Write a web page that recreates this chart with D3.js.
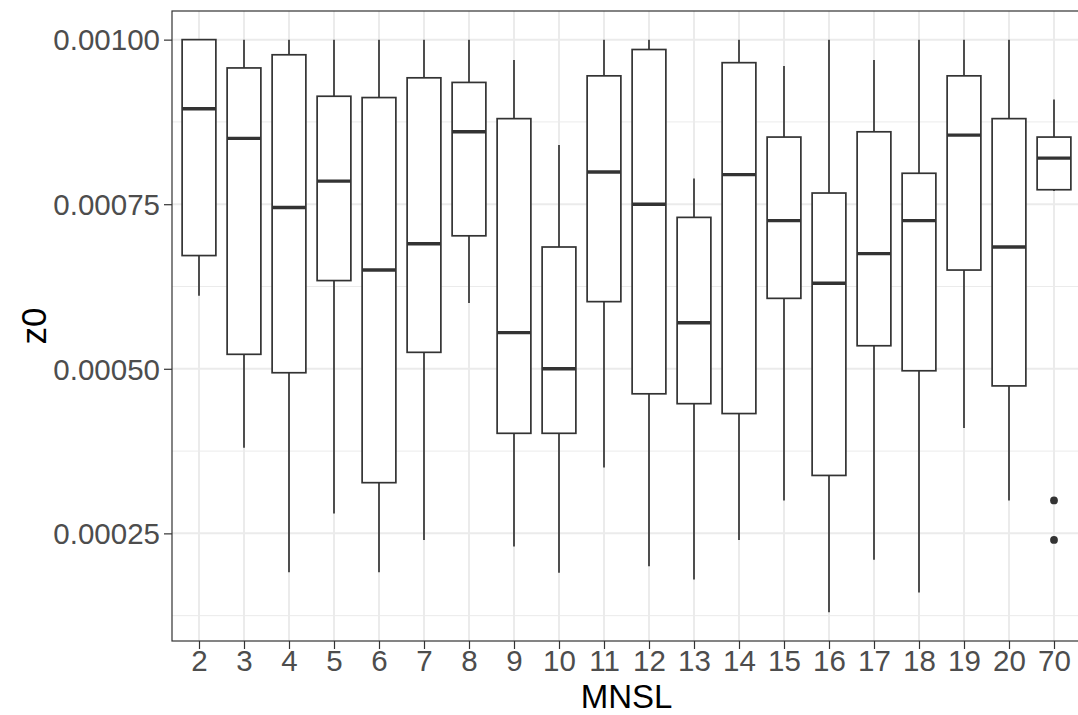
<!DOCTYPE html>
<html>
<head>
<meta charset="utf-8">
<script src="https://cdn.jsdelivr.net/npm/d3@7"></script>
<style>
  html, body { margin: 0; padding: 0; background: #ffffff; }
  svg { display: block; font-family: "Liberation Sans", Arial, Helvetica, sans-serif; }
</style>
</head>
<body>
<svg id="chart" width="1078" height="715"></svg>
<script>
// ---- data ----
const categories = ["2","3","4","5","6","7","8","9","10","11","12","13","14","15","16","17","18","19","20","70"];
const whiskerLow = [0.000611,0.00038,0.000191,0.00028,0.000191,0.00024,0.0006,0.00023,0.00019,0.00035,0.0002,0.00018,0.00024,0.0003,0.00013,0.00021,0.00016,0.00041,0.0003,0.00077];
const q1         = [0.000672,0.000522,0.000494,0.000634,0.000327,0.000525,0.000702,0.000402,0.000402,0.000602,0.000462,0.000447,0.000432,0.000607,0.000338,0.000535,0.000497,0.00065,0.000474,0.000772];
const medians    = [0.000895,0.00085,0.000745,0.000785,0.00065,0.00069,0.00086,0.000555,0.0005,0.000799,0.00075,0.00057,0.000795,0.000725,0.00063,0.000675,0.000725,0.000855,0.000685,0.00082];
const q3         = [0.001,0.000957,0.000977,0.000914,0.000912,0.000942,0.000935,0.00088,0.000685,0.000945,0.000985,0.00073,0.000965,0.000852,0.000767,0.00086,0.000797,0.000945,0.00088,0.000852];
const whiskerHigh= [0.001,0.001,0.001,0.001,0.001,0.001,0.001,0.000969,0.00084,0.001,0.001,0.000789,0.001,0.00096,0.001,0.000969,0.001,0.001,0.001,0.000909];
const outlierCats = ["70","70"];
const outlierVals = [0.0003,0.00024];
const yTicks = [0.00025,0.0005,0.00075,0.001];
const yMinorTicks = [0.000125,0.000375,0.000625,0.000875];
const xTitle = "MNSL";
const yTitle = "z0";

// ---- layout ----
const svg = d3.select("#chart");
const panel = {left: 172, right: 1081, top: 11, bottom: 641};

const x = d3.scalePoint().domain(categories).range([panel.left, panel.right]).padding(0.6);
const y = d3.scaleLinear().domain([0.0000865, 0.0010435]).range([panel.bottom, panel.top]);
const step = x.step();
const boxW = step * 0.75;

const boxes = categories.map((c, i) => ({
  c, lo: whiskerLow[i], q1: q1[i], med: medians[i], q3: q3[i], hi: whiskerHigh[i]
}));

// panel background
svg.append("rect").attr("x", panel.left).attr("y", panel.top)
  .attr("width", panel.right - panel.left).attr("height", panel.bottom - panel.top)
  .attr("fill", "#ffffff");

const grid = svg.append("g");
grid.selectAll("line.ymin").data(yMinorTicks).join("line")
  .attr("x1", panel.left).attr("x2", panel.right)
  .attr("y1", d => y(d)).attr("y2", d => y(d))
  .attr("stroke", "#EBEBEB").attr("stroke-width", 1);
grid.selectAll("line.ymaj").data(yTicks).join("line")
  .attr("x1", panel.left).attr("x2", panel.right)
  .attr("y1", d => y(d)).attr("y2", d => y(d))
  .attr("stroke", "#EBEBEB").attr("stroke-width", 2);
grid.selectAll("line.xmaj").data(categories).join("line")
  .attr("x1", d => x(d)).attr("x2", d => x(d))
  .attr("y1", panel.top).attr("y2", panel.bottom)
  .attr("stroke", "#EBEBEB").attr("stroke-width", 2);

// boxplots
const g = svg.append("g");
const bx = g.selectAll("g.box").data(boxes).join("g");
bx.append("line")
  .attr("x1", d => x(d.c)).attr("x2", d => x(d.c))
  .attr("y1", d => y(d.hi)).attr("y2", d => y(d.q3))
  .attr("stroke", "#333333").attr("stroke-width", 1.7);
bx.append("line")
  .attr("x1", d => x(d.c)).attr("x2", d => x(d.c))
  .attr("y1", d => y(d.q1)).attr("y2", d => y(d.lo))
  .attr("stroke", "#333333").attr("stroke-width", 1.7);
bx.append("rect")
  .attr("x", d => x(d.c) - boxW / 2).attr("width", boxW)
  .attr("y", d => y(d.q3)).attr("height", d => y(d.q1) - y(d.q3))
  .attr("fill", "#ffffff").attr("stroke", "#333333").attr("stroke-width", 1.7);
bx.append("line")
  .attr("x1", d => x(d.c) - boxW / 2).attr("x2", d => x(d.c) + boxW / 2)
  .attr("y1", d => y(d.med)).attr("y2", d => y(d.med))
  .attr("stroke", "#333333").attr("stroke-width", 3.4);

// outliers
g.selectAll("circle.out").data(outlierVals).join("circle")
  .attr("cx", (d, i) => x(outlierCats[i])).attr("cy", d => y(d))
  .attr("r", 3.9).attr("fill", "#333333");

// panel border
svg.append("rect").attr("x", panel.left).attr("y", panel.top)
  .attr("width", panel.right - panel.left).attr("height", panel.bottom - panel.top)
  .attr("fill", "none").attr("stroke", "#333333").attr("stroke-width", 1.2);

// axes
const yAxis = svg.append("g").attr("transform", `translate(${panel.left},0)`)
  .call(d3.axisLeft(y).tickValues(yTicks).tickFormat(d3.format(".5f")).tickSize(8).tickPadding(4));
const xAxis = svg.append("g").attr("transform", `translate(0,${panel.bottom})`)
  .call(d3.axisBottom(x).tickSize(8).tickPadding(3));
[yAxis, xAxis].forEach(a => {
  a.select(".domain").remove();
  a.selectAll(".tick line").attr("stroke", "#333333").attr("stroke-width", 1.2);
  a.selectAll(".tick text").attr("fill", "#4D4D4D").style("font-size", "29.5px")
    .style("font-family", "'Liberation Sans', Arial, sans-serif");
});
yAxis.selectAll(".tick text").attr("dy", "0.35em");
xAxis.selectAll(".tick text").attr("dy", "0.66em");

// titles
svg.append("text").attr("x", (panel.left + panel.right) / 2).attr("y", 707.8)
  .attr("text-anchor", "middle").attr("fill", "#000000").style("font-size", "33px")
  .text(xTitle);
svg.append("text").attr("transform", `translate(46,${(panel.top + panel.bottom) / 2}) rotate(-90)`)
  .attr("text-anchor", "middle").attr("fill", "#000000").style("font-size", "35px")
  .text(yTitle);
</script>
</body>
</html>
